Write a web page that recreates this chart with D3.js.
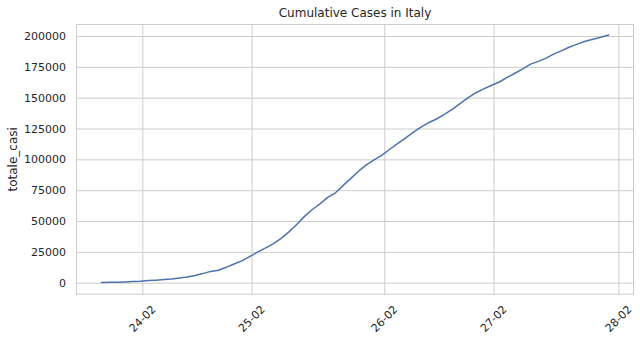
<!DOCTYPE html>
<html>
<head>
<meta charset="utf-8">
<script src="https://cdn.jsdelivr.net/npm/d3@7/dist/d3.min.js"></script>
<style>
  body { margin: 0; background: #fff; }
  text { font-family: "DejaVu Sans", sans-serif; fill: #262626; }
</style>
</head>
<body>
<div id="chart"></div>
<script>
// daily readings, 18:00 each day from 24 Feb to 29 Apr 2020
var startDate = '2020-02-24T18:00:00';
var totaleCasi = [
  229, 322, 400, 650, 888, 1128, 1694, 2036, 2502, 3089,
  3858, 4636, 5883, 7375, 9172, 10149, 12462, 15113, 17660, 21157,
  24747, 27980, 31506, 35713, 41035, 47021, 53578, 59138, 63927, 69176,
  72900, 78900, 84800, 90600, 95700, 99700, 103700, 108400, 112900, 117400,
  122100, 126400, 129900, 132900, 136600, 140800, 145400, 150000, 154000, 157100,
  160100, 162700, 166400, 169800, 173300, 177200, 179400, 182100, 185500, 188100,
  191100, 193400, 195700, 197400, 199000, 200800
];
// tick dates (semi-monthly) and the labels printed on them
var xTickDates = ['2020-03-01', '2020-03-15', '2020-04-01', '2020-04-15', '2020-05-01'];
var xTickLabels = ['24-02', '25-02', '26-02', '27-02', '28-02'];
var yTicks = [0, 25000, 50000, 75000, 100000, 125000, 150000, 175000, 200000];

var width = 640, height = 341;
var margin = {left: 76, right: 6, top: 24, bottom: 46.3};

var t0 = d3.isoParse(startDate);
var data = totaleCasi.map(function(v, i) {
  return {date: d3.timeDay.offset(t0, i), value: v};
});

var svg = d3.select('#chart').append('svg')
  .attr('width', width)
  .attr('height', height);

// matplotlib style 5% padding on x
var ext = d3.extent(data, function(d) { return d.date; });
var pad = (ext[1] - ext[0]) * 0.05;
var xScale = d3.scaleTime()
  .domain([new Date(+ext[0] - pad), new Date(+ext[1] + pad)])
  .range([margin.left, width - margin.right]);

var yScale = d3.scaleLinear()
  .domain([-9728, 209728])
  .range([height - margin.bottom, margin.top]);

var tickDates = xTickDates.map(function(s) { return d3.isoParse(s + 'T00:00:00'); });

// grid
var xAxis = d3.axisBottom(xScale)
  .tickValues(tickDates)
  .tickSize(-(height - margin.top - margin.bottom))
  .tickFormat('');
svg.append('g')
  .attr('class', 'grid')
  .attr('transform', 'translate(0,' + (height - margin.bottom) + ')')
  .call(xAxis);

var yAxis = d3.axisLeft(yScale)
  .tickValues(yTicks)
  .tickSize(-(width - margin.left - margin.right))
  .tickPadding(10)
  .tickFormat(d3.format('d'));
svg.append('g')
  .attr('class', 'grid')
  .attr('transform', 'translate(' + margin.left + ',0)')
  .call(yAxis);

svg.selectAll('.grid .domain').remove();
svg.selectAll('.grid line')
  .attr('stroke', '#cccccc')
  .attr('stroke-width', 1);
svg.selectAll('.grid text')
  .style('font-size', '11px')
  .attr('fill', '#262626');

// rotated x labels
svg.append('g')
  .selectAll('text')
  .data(tickDates)
  .enter()
  .append('text')
  .attr('transform', function(d) {
    return 'translate(' + xScale(d) + ',' + (height - margin.bottom + 24) + ') rotate(-45)';
  })
  .attr('text-anchor', 'middle')
  .attr('dy', '0.35em')
  .style('font-size', '11px')
  .text(function(d, i) { return xTickLabels[i]; });

// frame
svg.append('rect')
  .attr('x', margin.left + 0.5)
  .attr('y', margin.top + 0.5)
  .attr('width', width - margin.left - margin.right - 1)
  .attr('height', height - margin.top - margin.bottom - 1)
  .attr('fill', 'none')
  .attr('stroke', '#cccccc')
  .attr('stroke-width', 1);

// line
var line = d3.line()
  .x(function(d) { return xScale(d.date); })
  .y(function(d) { return yScale(d.value); });

svg.append('path')
  .datum(data)
  .attr('d', line)
  .attr('fill', 'none')
  .attr('stroke', '#4c72b0')
  .attr('stroke-width', 1.5)
  .attr('stroke-linejoin', 'round')
  .attr('stroke-linecap', 'round');

// title
svg.append('text')
  .attr('x', (margin.left + width - margin.right) / 2)
  .attr('y', 17)
  .attr('text-anchor', 'middle')
  .style('font-size', '12px')
  .text('Cumulative Cases in Italy');

// y label
svg.append('text')
  .attr('transform', 'translate(17,' + ((margin.top + height - margin.bottom) / 2) + ') rotate(-90)')
  .attr('text-anchor', 'middle')
  .style('font-size', '12px')
  .text('totale_casi');
</script>
</body>
</html>
